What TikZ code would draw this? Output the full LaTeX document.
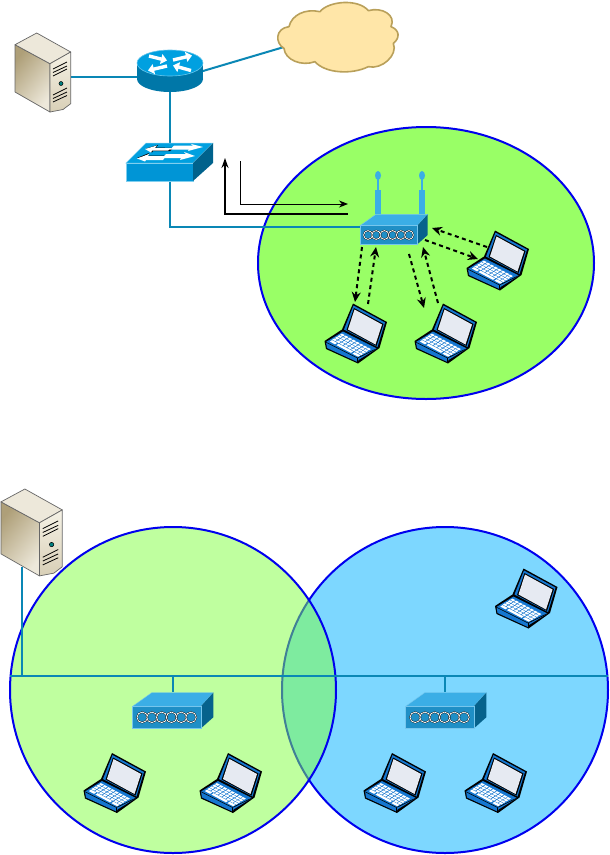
\documentclass[tikz,border=0pt]{standalone}
\usetikzlibrary{arrows.meta}
\definecolor{wire}{HTML}{0A87B5}
\definecolor{ring}{HTML}{0000EE}
\definecolor{cellA}{HTML}{99FF66}
\definecolor{cellB}{HTML}{80FF40}
\definecolor{cellC}{HTML}{7DD7FF}
\definecolor{ciscoA}{HTML}{0095D6}
\definecolor{ciscoB}{HTML}{00A0E0}
\definecolor{ciscoD}{HTML}{00628C}
\definecolor{routerD}{HTML}{0077A8}
\definecolor{apF}{HTML}{1F8FC6}
\definecolor{apT}{HTML}{3BAEE6}
\definecolor{apD}{HTML}{06628C}
\definecolor{lapB}{HTML}{1577D0}
\definecolor{lapS}{HTML}{E6EAF2}
\definecolor{srvA}{HTML}{EDE8DA}
\definecolor{srvB}{HTML}{AE9F78}
\definecolor{srvC}{HTML}{F5F2E6}
\definecolor{srvD}{HTML}{D8CFB6}
\definecolor{cloudF}{HTML}{FFE6A8}
\definecolor{cloudL}{HTML}{B9A05A}
\tikzset{
  wireline/.style={draw=wire,line width=2pt},
  ringline/.style={draw=ring,line width=2pt},
  dasharrow/.style={line width=2pt,dash pattern=on 4pt off 3.5pt,-{Stealth[length=10pt,width=9pt]}},
  thinarrow/.style={line width=1pt,-{Stealth[length=9pt,width=7pt]}},
  thickarrow/.style={line width=2pt,-{Stealth[length=10pt,width=7pt]}},
  routerarrow/.style={draw=white,line width=3.4pt,-{Triangle[length=6pt,width=10pt]}},
  laptop/.pic={
    \fill[black] (28,-0.5)--(62,18)--(54.5,44)--(33,59.5)--(1,45)--(-0.5,37)--(17,25.5)--cycle;
    \fill[lapB] (28.5,1.5)--(60,18.5)--(52.5,43)--(19,25.5)--cycle;
    \fill[black] (29,4)--(58.5,20)--(51.5,42)--(21.5,26)--cycle;
    \fill[lapS] (29.5,5.5)--(57,20.5)--(50.5,40.5)--(23,25.5)--cycle;
    \fill[lapB] (1,38)--(18,27.5)--(52,44.5)--(33.5,56)--(32.5,58)--(2,44)--cycle;
    \draw[black,line width=.6pt] (0.5,38)--(32.5,54)--(53,44);
    \draw[black,line width=.6pt] (32.5,54)--(32.5,59);
    \begin{scope}[shift={(3,38)},x={(29pt,-15.5pt)},y={(15pt,9.5pt)}]
      \foreach \u in {0.06,0.19,0.32,0.45,0.58,0.71,0.84,0.96}
        \foreach \v in {0.33,0.5,0.67,0.84}
          \fill[white] (\u-.05,\v-.065) -- (\u+.05,\v-.065) -- (\u+.05,\v+.065) -- (\u-.05,\v+.065) -- cycle;
      \fill[white] (0.02,0.08) -- (0.2,0.08) -- (0.2,0.23) -- (0.02,0.23) -- cycle;
      \fill[white] (0.25,0.08) -- (0.75,0.08) -- (0.75,0.23) -- (0.25,0.23) -- cycle;
      \fill[white] (0.8,0.08) -- (1,0.08) -- (1,0.23) -- (0.8,0.23) -- cycle;
    \end{scope}
  },
  server/.pic={
    \shade[left color=srvB,right color=srvA,shading angle=50,draw=gray!80!black,line width=.7pt,line join=round]
      (0,11.7)--(35,30.7)--(35,79)--(0,59)--cycle;
    \fill[srvA,draw=gray!80!black,line width=.7pt,line join=round] (21.7,0)--(0,11.7)--(35,30.7)--(55.7,19)--cycle;
    \shade[top color=srvC,bottom color=srvD,draw=gray!80!black,line width=.7pt,line join=round]
      (35,30.7)--(55.7,19)--(55.7,70.7)--(48,76.5)--(35,79)--cycle;
    \draw[black,line width=.8pt] (38,36)--(52,29) (38,39.5)--(52,33) (38,43)--(52,36);
    \draw[black,line width=.8pt] (38,62)--(52,55) (38,65.5)--(52,59) (38,69)--(52,62.5);
    \fill[teal,draw=black,line width=.5pt] (46,50.5) circle (2);
  },
  router/.pic={
    \fill[routerD] (0,16) ellipse[x radius=33,y radius=13];
    \fill[routerD] (-33,0) rectangle (33,16);
    \fill[ciscoB,draw=ciscoB!60!white,line width=.6pt] (0,0) ellipse[x radius=33,y radius=13];
    \draw[routerarrow] (-21,-7) -- (-3,-2.5);
    \draw[routerarrow] (3,-3) -- (22,-7.5);
    \draw[routerarrow] (-3,3) -- (-22,7.5);
    \draw[routerarrow] (21,7.5) -- (3,2.5);
  },
  switchbox/.pic={
    \fill[ciscoB,draw=ciscoB!50!white,line width=.5pt] (0,20)--(20,0)--(87,0)--(67,20)--cycle;
    \fill[ciscoA,draw=ciscoB!50!white,line width=.5pt] (0,20) rectangle (67,38);
    \fill[ciscoD] (67,20)--(87,0)--(87,20)--(67,38)--cycle;
    \fill[black] (20,5.5)--(32,2)--(30,4.5)--(48,5)--(44,8)--(27,8)--(26,9.5)--cycle;
    \fill[white] (19,6)--(31,2.5)--(29,5)--(46,5)--(42,7.5)--(26,7.5)--(25,9.5)--cycle;
    \fill[white] (48,2.5)--(67,2.5)--(64.5,0.8)--(77,4)--(62,8)--(63,6.5)--(44,6.5)--cycle;
    \fill[black] (11,15)--(23,10)--(21,12.5)--(40,12.5)--(38,14)--(19,14)--cycle;
    \fill[white] (11,15.5)--(23,11)--(22,13)--(40,13)--(37,17)--(20,17)--(19,18.5)--cycle;
    \fill[white] (40,11)--(60,11)--(58,9)--(69,13)--(54,17)--(55,15)--(36,15)--cycle;
  },
  apbox/.pic={
    \fill[apT,draw=apT!70!white,line width=.4pt] (0,11.4)--(16,0)--(67.7,0)--(57.3,11.4)--cycle;
    \fill[apD] (57.3,11.4)--(67.7,0)--(67.7,20.7)--(57.3,30)--cycle;
    \fill[apF,draw=apT!70!white,line width=.7pt] (0,11.4) rectangle (57.3,30);
    \foreach \k in {0,1,2,3,4,5}
      \draw[white,line width=.8pt,preaction={draw=black,line width=1.5pt}] (8+\k*8.2,20.7) circle[radius=4.4];
  },
  antenna/.pic={
    \fill[apT] (-3,0) rectangle (3,-24);
    \fill[apT] (-1,-24) rectangle (1,-36);
    \fill[apT] (0,-38.5) ellipse[x radius=3,y radius=4.5];
  }
}
\begin{document}
\begin{tikzpicture}[x=1pt,y=-1pt]
\useasboundingbox (0,0) rectangle (610,855);
\fill[white] (0,0) rectangle (610,855);

% cells
\draw[ringline,fill=cellA] (426,263) ellipse[x radius=168,y radius=136];
\draw[ringline,fill=cellC] (445,690) circle[radius=163];
\draw[ringline,fill=cellB,fill opacity=.5,draw opacity=1] (173,690) circle[radius=163];

% anchors
\coordinate (srvA) at (71,77);
\coordinate (rtrW) at (137,77);
\coordinate (rtrE) at (203,71);
\coordinate (cloudW) at (284,47);
\coordinate (rtrS) at (170,92);
\coordinate (swN) at (170,143);
\coordinate (swS) at (170,181);
\coordinate (apW) at (360,227);
\coordinate (thinS) at (240,161);
\coordinate (thinE) at (348,204);
\coordinate (thickS) at (348,214);
\coordinate (thickE) at (225,158);
\coordinate (busW) at (10,676);
\coordinate (busE) at (608,676);
\coordinate (srvB) at (22,567);
\coordinate (ap1) at (173,692);
\coordinate (ap2) at (445,692);

% wires
\draw[wireline] (srvA) -- (rtrW);
\draw[wireline] (rtrE) -- (cloudW);
\draw[wireline] (rtrS) -- (swN);
\draw[wireline] (swS) |- (apW);
\draw[wireline] (busW) -- (busE);
\draw[wireline] (srvB) -- (srvB |- busW);
\draw[wireline] (ap1) -- (ap1 |- busW);
\draw[wireline] (ap2) -- (ap2 |- busW);

% traffic arrows
\draw[thinarrow] (thinS) |- (thinE);
\draw[thickarrow] (thickS) -| (thickE);

% cloud
\begin{scope}[shift={(265,0)},x=.3333pt,y=-.3333pt]
\draw[fill=cloudF,draw=cloudL,line width=1.6pt,line join=round]
 (72,80) .. controls (80,45) and (120,25) .. (165,35)
 .. controls (190,3) and (280,-5) .. (310,32)
 .. controls (350,20) and (395,45) .. (378,80)
 .. controls (405,90) and (405,115) .. (385,130)
 .. controls (400,165) and (350,210) .. (310,200)
 .. controls (260,225) and (180,220) .. (150,185)
 .. controls (110,200) and (60,180) .. (57,145)
 .. controls (30,130) and (30,85) .. (72,80) -- cycle;
\end{scope}

% devices
\pic at (15,33) {server};
\pic[scale=1.1] at (1,489) {server};
\pic at (170,63) {router};
\pic at (126,143) {switchbox};
\pic at (378,214) {antenna};
\pic at (422,214) {antenna};
\pic at (360,214.3) {apbox};
\pic[scale=1.19] at (132.7,692.7) {apbox};
\pic[scale=1.19] at (405.7,692.7) {apbox};
\pic at (325,304) {laptop};
\pic at (415,304) {laptop};
\pic at (467,231) {laptop};
\pic at (84,753.5) {laptop};
\pic at (200,753.5) {laptop};
\pic at (364,753.5) {laptop};
\pic at (465,753.5) {laptop};
\pic at (495.5,569) {laptop};

% wireless links
\coordinate (a1) at (362,247);
\coordinate (l1a) at (355,302);
\coordinate (l1b) at (368,304);
\coordinate (a2) at (376,247);
\coordinate (a3) at (409,254);
\coordinate (l2a) at (424,308);
\coordinate (l2b) at (438,303);
\coordinate (a4) at (423,247);
\coordinate (a5) at (425,240);
\coordinate (l3a) at (478,259);
\coordinate (l3b) at (487,247);
\coordinate (a6) at (432,228);
\draw[dasharrow] (a1) -- (l1a);
\draw[dasharrow] (l1b) -- (a2);
\draw[dasharrow] (a3) -- (l2a);
\draw[dasharrow] (l2b) -- (a4);
\draw[dasharrow] (a5) -- (l3a);
\draw[dasharrow] (l3b) -- (a6);
\end{tikzpicture}
\end{document}
